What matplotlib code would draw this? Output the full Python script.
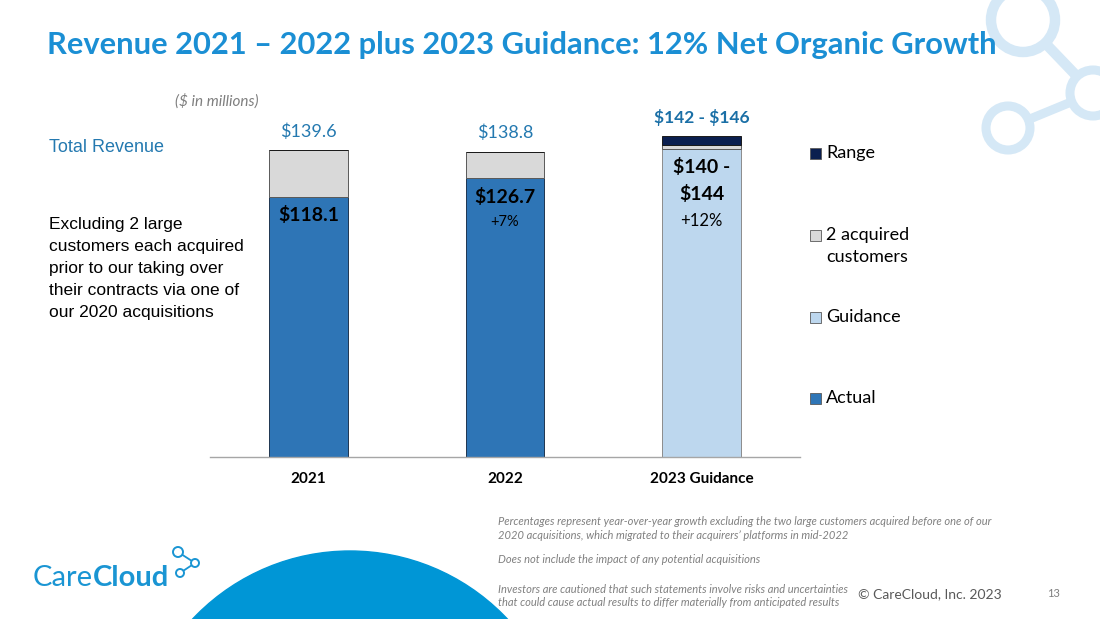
import matplotlib.pyplot as plt
from matplotlib.patches import Circle, Rectangle

# Revenue data ($ in millions)
categories = ['2021', '2022', '2023 Guidance']
actual = [118.1, 126.7, 0]
guidance = [0, 0, 140]
acquired = [21.5, 12.1, 2]
range_ = [0, 0, 4]
total_labels = [r'\$139.6', r'\$138.8', r'\$142 - \$146']
inner_labels = [[r'\$118.1'], [r'\$126.7'], [r'\$140 -', r'\$144']]
growth_labels = ['', '+7%', '+12%']
legend_labels = ['Range', '2 acquired\ncustomers', 'Guidance', 'Actual']

left_note = ['Excluding 2 large', 'customers each acquired', 'prior to our taking over',
             'their contracts via one of', 'our 2020 acquisitions']
footnotes = ['Percentages represent year-over-year growth excluding the two large customers acquired before one of our',
             '2020 acquisitions, which migrated to their acquirers\u2019 platforms in mid-2022',
             'Does not include the impact of any potential acquisitions',
             'Investors are cautioned that such statements involve risks and uncertainties',
             'that could cause actual results to differ materially from anticipated results']

c_actual = '#2e75b6'
c_guid = '#bdd7ee'
c_acq = '#d9d9d9'
c_range = '#0b1f4f'
c_title = '#1b8fd4'
c_total = '#2479b0'
c_deco = '#d5e8f6'
c_logo = '#1a95d3'

W, H = 1100, 619
fig = plt.figure(figsize=(11, 6.19), dpi=100)

# background layer in pixel coordinates
bg = fig.add_axes([0, 0, 1, 1])
bg.set_xlim(0, W)
bg.set_ylim(H, 0)
bg.axis('off')

# top right network decoration
bg.plot([1023, 1093], [20, 93], color=c_deco, lw=7.5, solid_capstyle='butt', zorder=1)
bg.plot([1093, 1008], [93, 128], color=c_deco, lw=6.5, solid_capstyle='butt', zorder=1)
for cx, cy, r, lw in [(1023, 20, 32, 7.5), (1093, 93, 23, 6.5), (1008, 128, 22, 6.5)]:
    bg.add_patch(Circle((cx, cy), r, facecolor='white', edgecolor=c_deco, lw=lw, zorder=2))

# bottom blue arc
bg.add_patch(Circle((350, 767), 216, color='#0096d6'))

# logo
care = bg.text(33, 586, 'Care', fontsize=21, family='Lato', weight='normal', color=c_logo)
fig.canvas.draw()
bb = care.get_window_extent()
bg.annotate('Cloud', xy=(bb.x1, 0), xycoords=('figure pixels', 'data'), xytext=(0, 586),
            textcoords=('offset pixels', 'data'), fontsize=21, family='Lato', weight='bold',
            color=c_logo)
bg.plot([178, 195], [552, 563], color=c_logo, lw=1.3, zorder=1)
bg.plot([195, 180], [563, 573], color=c_logo, lw=1.3, zorder=1)
for cx, cy, r in [(178, 552, 5), (195, 563, 4), (180, 573, 4)]:
    bg.add_patch(Circle((cx, cy), r, facecolor='white', edgecolor=c_logo, lw=1.4, zorder=2))

# title and side texts
bg.text(47, 54, 'Revenue 2021 \u2013 2022 plus 2023 Guidance: 12% Net Organic Growth',
        fontsize=22.2, family='Lato', weight='bold', color=c_title)
bg.text(175, 106, r'(\$ in millions)', fontsize=11, family='Lato', style='italic', color='#7f7f7f')
bg.text(49, 152, 'Total Revenue', fontsize=13, family='Liberation Sans', color=c_total)
for i, line in enumerate(left_note):
    bg.text(49, 229 + i * 22, line, fontsize=12.5, family='Liberation Sans', color='black')

# legend drawn by hand to keep the slide spacing
leg_colors = [c_range, c_acq, c_guid, c_actual]
leg_y = [153, 235, 317, 398]
for lab, col, y in zip(legend_labels, leg_colors, leg_y):
    bg.add_patch(Rectangle((810, y - 5.5), 11, 11, facecolor=col, edgecolor='#595959', lw=0.6))
    for j, part in enumerate(lab.split('\n')):
        bg.text(826, y + j * 22, part, fontsize=13, family='Lato', va='center', color='black')

# footnotes
foot_y = [525, 539, 563, 593, 606]
for line, y in zip(footnotes, foot_y):
    bg.text(498, y, line, fontsize=8, family='Lato', style='italic', color='#808080')
bg.text(858, 598, '\u00a9 CareCloud, Inc. 2023', fontsize=10, family='Lato', color='#595959')
bg.text(1047, 597, '13', fontsize=8, family='Lato', color='#7f7f7f')

# chart
ax = fig.add_axes([210 / W, 1 - 457 / H, 590 / W, 150 * 2.2 / H])
ax.patch.set_alpha(0)
x = range(len(categories))
bw = 0.4
ax.bar(x, actual, bw, color=c_actual, edgecolor='#1f3550', lw=0.7)
ax.bar(x, guidance, bw, bottom=actual, color=c_guid, edgecolor='#8c8c8c', lw=0.7)
bot2 = [a + g for a, g in zip(actual, guidance)]
ax.bar(x, acquired, bw, bottom=bot2, color=c_acq, edgecolor='#595959', lw=0.7)
bot3 = [b + q for b, q in zip(bot2, acquired)]
ax.bar(x, range_, bw, bottom=bot3, color=c_range, edgecolor='#1a1a1a', lw=0.7)
tops = [b + r for b, r in zip(bot3, range_)]

ax.set_xlim(-0.5, 2.5)
ax.set_ylim(0, 150)
for s in ['top', 'right', 'left']:
    ax.spines[s].set_visible(False)
ax.spines['bottom'].set_color('#a6a6a6')
ax.spines['bottom'].set_linewidth(1)
ax.set_yticks([])
ax.set_xticks(list(x))
ax.set_xticklabels(categories, fontsize=11, family='Lato', weight='bold')
ax.tick_params(axis='x', length=0, pad=11)

for i in x:
    ranged = range_[i] > 0
    ax.annotate(total_labels[i], (i, tops[i]), xytext=(0, 9.5), textcoords='offset points',
                ha='center', va='baseline', fontsize=13 if not ranged else 12.5,
                family='Lato', weight='bold' if ranged else 'normal',
                color='#1a6fa6' if ranged else c_total)
    seg_top = bot2[i]
    for j, line in enumerate(inner_labels[i]):
        ax.annotate(line, (i, seg_top), xytext=(0, -17.5 - j * 19), textcoords='offset points',
                    ha='center', va='baseline', fontsize=14, family='Lato', weight='bold', color='black')
    if growth_labels[i]:
        n = len(inner_labels[i])
        ax.annotate(growth_labels[i], (i, seg_top), xytext=(0, -17.5 - (n - 1) * 19 - 17 - 2 * (n - 1)),
                    textcoords='offset points', ha='center', va='baseline',
                    fontsize=10.5 if n == 1 else 12, family='Lato', color='black')

plt.savefig('out.png', dpi=100)
